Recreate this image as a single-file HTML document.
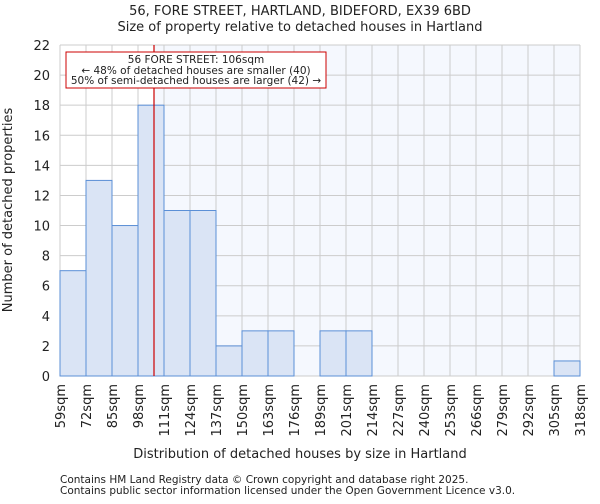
<!DOCTYPE html>
<html><head><meta charset="utf-8"><style>
body{margin:0;background:#fff;font-family:"DejaVu Sans","Liberation Sans",sans-serif;}
svg text{font-family:"DejaVu Sans","Liberation Sans",sans-serif;fill:#222;}
</style></head><body>
<svg id="c" width="600" height="500"></svg>
<script>
const labels=["59sqm","72sqm","85sqm","98sqm","111sqm","124sqm","137sqm","150sqm","163sqm","176sqm","189sqm","201sqm","214sqm","227sqm","240sqm","253sqm","266sqm","279sqm","292sqm","305sqm","318sqm"];
const counts=[7,13,10,18,11,11,2,3,3,0,3,3,0,0,0,0,0,0,0,1];
const yTicks=[0,2,4,6,8,10,12,14,16,18,20,22];
const propertySize=106;
const binStart=59, binWidth=13;
const NS="http://www.w3.org/2000/svg";
const svg=document.getElementById('c');
const L=60,R=580,T=45,B=376;
const nb=counts.length;
const xPix=i=>L+(R-L)*i/nb;
const xVal=v=>L+(R-L)*(v-binStart)/(binWidth*nb);
const y=v=>B-(B-T)*v/22;
function mk(t,a,txt){const e=document.createElementNS(NS,t);for(const k in a)e.setAttribute(k,a[k]);if(txt!=null)e.textContent=txt;svg.appendChild(e);return e;}
const px=xVal(propertySize);
let e=mk('rect',{x:L,y:T,width:R-L,height:B-T,fill:'#fff'});

e=mk('rect',{x:px,y:T,width:R-px,height:B-T,fill:'#f5f8fe'});

yTicks.forEach(v=>{e=mk('line',{x1:L,x2:R,y1:y(v),y2:y(v),stroke:'#ccc','stroke-width':1});

e=mk('text',{x:L-10,y:y(v)+5,'text-anchor':'end','font-size':13},v);
});
for(let i=0;i<=nb;i++){e=mk('line',{x1:xPix(i),x2:xPix(i),y1:T,y2:B,stroke:'#ccc','stroke-width':1});

e=mk('text',{transform:`translate(${xPix(i)+5},${B+8}) rotate(-90)`,'text-anchor':'end','font-size':13},labels[i]);
}
counts.forEach((c,i)=>{if(c<=0)return;e=mk('rect',{x:xPix(i),y:y(c),width:xPix(i+1)-xPix(i),height:B-y(c),fill:'#dae4f5',stroke:'#5b8fd6','stroke-width':1});
});
e=mk('line',{x1:px,x2:px,y1:T,y2:B,stroke:'#cc0000','stroke-width':1.2});

e=mk('rect',{x:66,y:52,width:260,height:36,fill:'#fff',stroke:'#cc0000','stroke-width':1});

[["56 FORE STREET: 106sqm",63],["← 48% of detached houses are smaller (40)",74],["50% of semi-detached houses are larger (42) →",84]].forEach(a=>{
e=mk('text',{x:196,y:a[1],'text-anchor':'middle','font-size':10.5},a[0]);
});
e=mk('text',{x:300,y:15,'text-anchor':'middle','font-size':13},"56, FORE STREET, HARTLAND, BIDEFORD, EX39 6BD");

e=mk('text',{x:300,y:31,'text-anchor':'middle','font-size':13},"Size of property relative to detached houses in Hartland");

e=mk('text',{x:300,y:458,'text-anchor':'middle','font-size':13},"Distribution of detached houses by size in Hartland");

e=mk('text',{transform:'translate(12,210) rotate(-90)','text-anchor':'middle','font-size':13},"Number of detached properties");

e=mk('text',{x:60,y:483,'font-size':10.5,fill:'#444'},"Contains HM Land Registry data © Crown copyright and database right 2025.");

e=mk('text',{x:60,y:494,'font-size':10.5,fill:'#444'},"Contains public sector information licensed under the Open Government Licence v3.0.");

</script></body></html>
